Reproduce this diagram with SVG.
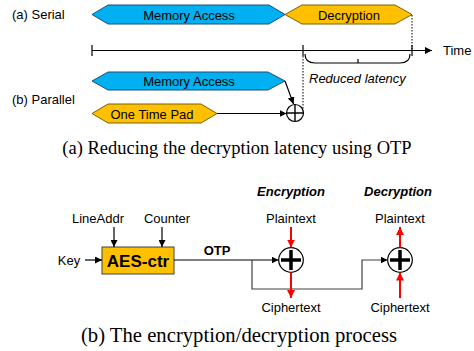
<svg xmlns="http://www.w3.org/2000/svg" width="474" height="351" viewBox="0 0 474 351">
<defs>
<style>
.t{font-family:"Liberation Sans",Arial,sans-serif;font-size:13px;fill:#000}
.cap{font-family:"Liberation Serif","Times New Roman",serif;font-size:18.5px;fill:#000}
.blue{fill:#00B0F0;stroke:#1F4E79;stroke-width:1}
.orange{fill:#FFC000;stroke:#7F6000;stroke-width:1}
.ln{stroke:#000;stroke-width:1.2;fill:none}
.dot{stroke:#000;stroke-width:1;stroke-dasharray:1.5,1.5;fill:none}
.red{stroke:#FF0000;stroke-width:2;fill:none}
</style>
<marker id="ah" viewBox="0 0 10 10" refX="10" refY="5" markerWidth="7" markerHeight="7" orient="auto" markerUnits="userSpaceOnUse"><path d="M0,0 L10,5 L0,10 z" fill="#000"/></marker>
<marker id="ahr" viewBox="0 0 10 10" refX="10" refY="5" markerWidth="8" markerHeight="8" orient="auto" markerUnits="userSpaceOnUse"><path d="M0,0 L10,5 L0,10 z" fill="#FF0000"/></marker>
</defs>
<rect width="474" height="351" fill="#fff"/>

<!-- Part (a) -->
<g id="label-serial"><text class="t" x="12" y="19">(a) Serial</text></g>
<g id="label-parallel"><text class="t" x="12" y="104">(b) Parallel</text></g>

<g id="mem1">
<polygon class="blue" points="92,14.5 108,5 269,5 285,14.5 269,24 108,24"/>
<text class="t" x="189" y="19.5" text-anchor="middle">Memory Access</text>
</g>
<g id="decrypt">
<polygon class="orange" points="285,14.5 302,5 395,5 412,14.5 395,24 302,24"/>
<text class="t" x="349" y="19.5" text-anchor="middle">Decryption</text>
</g>
<g id="mem2">
<polygon class="blue" points="92,81 108,72 268,72 285,81 268,90 108,90"/>
<text class="t" x="189" y="86" text-anchor="middle">Memory Access</text>
</g>
<g id="otp-pad">
<polygon class="orange" points="92,113.5 108,104 201,104 217,113.5 201,123 108,123"/>
<text class="t" x="152" y="118.5" text-anchor="middle">One Time Pad</text>
</g>
<g id="xor-a">
<circle cx="295" cy="113" r="8.5" fill="#fff" stroke="#000" stroke-width="1.2"/>
<path d="M286.5,113 H303.5 M295,104.5 V121.5" stroke="#000" stroke-width="1.4"/>
</g>
<g id="time-label"><text class="t" x="443" y="55">Time</text></g>
<g id="reduced"><text class="t" x="309" y="83" font-style="italic">Reduced latency</text></g>

<g id="connectors-a">
<line class="ln" x1="92" y1="50.5" x2="432" y2="50.5" marker-end="url(#ah)"/>
<line class="ln" x1="92" y1="45" x2="92" y2="56"/>
<line class="ln" x1="303" y1="45" x2="303" y2="56"/>
<line class="ln" x1="412" y1="45" x2="412" y2="56"/>
<line class="dot" x1="412" y1="15" x2="412" y2="50"/>
<line class="dot" x1="303" y1="56" x2="303" y2="113"/>
<path class="ln" d="M305,54 Q305,63 315,63 L400,63 Q410,63 410,54 M358,63 V59"/>
<line class="ln" x1="285" y1="81" x2="293.5" y2="104" marker-end="url(#ah)"/>
<line class="ln" x1="217" y1="113.5" x2="286.5" y2="113.5" marker-end="url(#ah)"/>
</g>

<text class="cap" x="237" y="154" text-anchor="middle">(a) Reducing the decryption latency using OTP</text>

<!-- Part (b) -->
<g id="lineaddr"><text class="t" x="98" y="223" text-anchor="middle">LineAddr</text></g>
<g id="counter"><text class="t" x="167" y="223" text-anchor="middle">Counter</text></g>
<g id="key"><text class="t" x="69" y="265" text-anchor="middle">Key</text></g>
<g id="aes">
<rect x="102" y="247" width="72" height="27" fill="#FFC000" stroke="#404040" stroke-width="1"/>
<text x="138" y="267" text-anchor="middle" font-family="'Liberation Sans',Arial,sans-serif" font-size="17" font-weight="bold">AES-ctr</text>
</g>
<g id="otp-label"><text class="t" x="217" y="255" text-anchor="middle" font-weight="bold">OTP</text></g>

<g id="enc-title"><text class="t" x="291" y="196" text-anchor="middle" font-weight="bold" font-style="italic">Encryption</text></g>
<g id="dec-title"><text class="t" x="398" y="196" text-anchor="middle" font-weight="bold" font-style="italic">Decryption</text></g>
<g id="enc-plain"><text class="t" x="291" y="223" text-anchor="middle">Plaintext</text></g>
<g id="enc-cipher"><text class="t" x="291" y="312" text-anchor="middle">Ciphertext</text></g>
<g id="dec-plain"><text class="t" x="400" y="223" text-anchor="middle">Plaintext</text></g>
<g id="dec-cipher"><text class="t" x="400" y="312" text-anchor="middle">Ciphertext</text></g>

<g id="xor-enc">
<circle cx="291" cy="260" r="12.3" fill="#fff" stroke="#000" stroke-width="1.2"/>
<path d="M281,260 H301 M291,250 V270" stroke="#000" stroke-width="3.5"/>
</g>
<g id="xor-dec">
<circle cx="400" cy="260" r="12.3" fill="#fff" stroke="#000" stroke-width="1.2"/>
<path d="M390,260 H410 M400,250 V270" stroke="#000" stroke-width="3.5"/>
</g>

<g id="connectors-b">
<line class="ln" x1="85" y1="260" x2="102" y2="260" marker-end="url(#ah)"/>
<line class="ln" x1="114" y1="227" x2="114" y2="247" marker-end="url(#ah)"/>
<line class="ln" x1="162" y1="227" x2="162" y2="247" marker-end="url(#ah)"/>
<line class="ln" x1="174" y1="260" x2="278.5" y2="260" marker-end="url(#ah)"/>
<path d="M252,260 V289 H362 V260 H387.5" fill="none" stroke="#404040" stroke-width="1.2" marker-end="url(#ah)"/>
<line class="red" x1="291" y1="227" x2="291" y2="247.5" marker-end="url(#ahr)"/>
<line class="red" x1="291" y1="272.5" x2="291" y2="298" marker-end="url(#ahr)"/>
<line class="red" x1="400" y1="298" x2="400" y2="272.5" marker-end="url(#ahr)"/>
<line class="red" x1="400" y1="247.5" x2="400" y2="227" marker-end="url(#ahr)"/>
</g>

<text class="cap" x="239" y="342" text-anchor="middle" style="font-size:20.7px">(b) The encryption/decryption process</text>
</svg>
